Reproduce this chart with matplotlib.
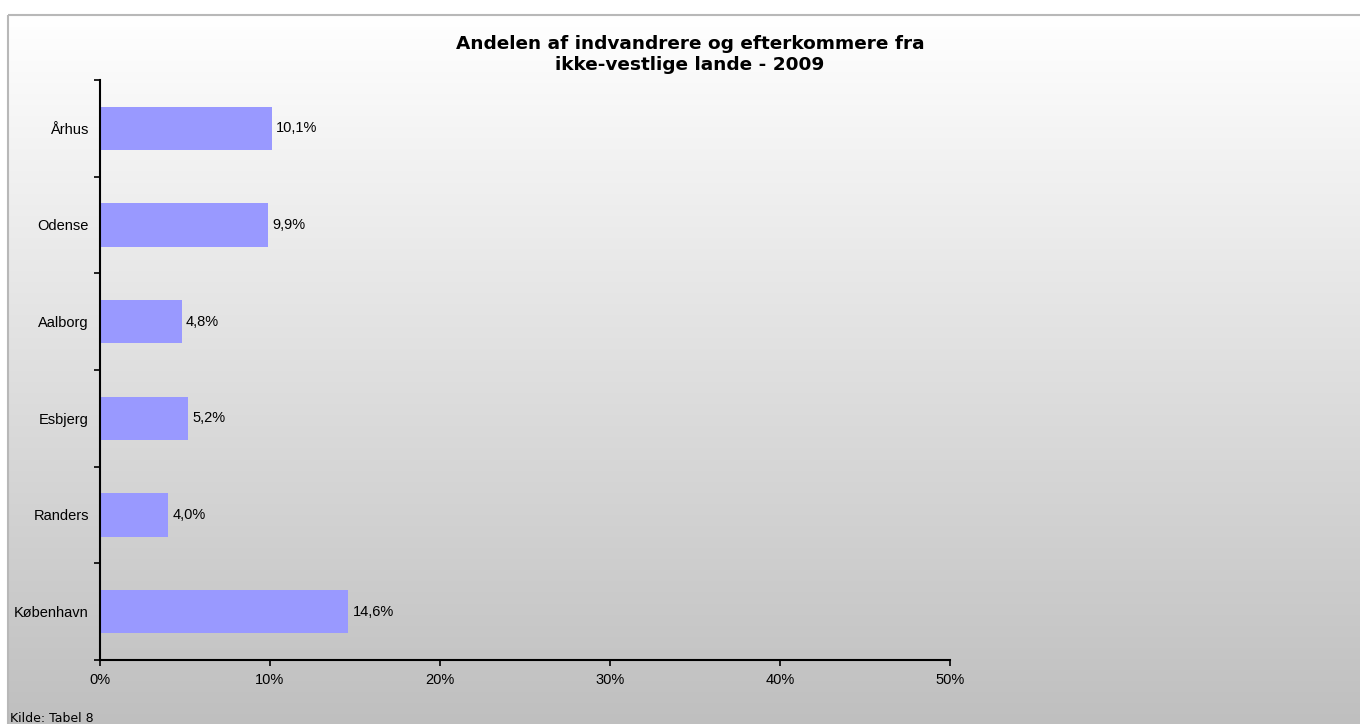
import numpy as np
import matplotlib
matplotlib.use("Agg")
import matplotlib.pyplot as plt
from matplotlib.patches import Rectangle
from matplotlib.ticker import FuncFormatter, FixedLocator

categories = ["Århus", "Odense", "Aalborg", "Esbjerg", "Randers", "København"]
values = [10.1, 9.9, 4.8, 5.2, 4.0, 14.6]
value_labels = ["10,1%", "9,9%", "4,8%", "5,2%", "4,0%", "14,6%"]
x_ticks = [0, 10, 20, 30, 40, 50]
title = "Andelen af indvandrere og efterkommere fra\nikke-vestlige lande - 2009"
source = "Kilde: Tabel 8"

W, H = 1360, 724
fig = plt.figure(figsize=(W / 100, H / 100), dpi=100)
fig.patch.set_facecolor("white")

# background with gradient and frame
bg = fig.add_axes([0, 0, 1, 1], zorder=-10)
bg.set_xlim(0, W)
bg.set_ylim(H, 0)
bg.axis("off")
grad = np.linspace(1.0, 0.75, 256).reshape(-1, 1)
grad_rgb = np.dstack([grad, grad, grad])
bg.imshow(grad_rgb, extent=[8, W + 5, H, 15], aspect="auto", interpolation="bilinear", zorder=0)
bg.add_patch(Rectangle((8, 15), W + 10, H, fill=False, edgecolor="#b8b8b8", lw=1.5, zorder=1))

FS = 10.5
ax = fig.add_axes([100 / W, 1 - 660 / H, 850 / W, 580 / H])
ax.set_facecolor("none")
y = np.arange(len(categories))
ax.barh(y, values, height=0.45, color="#9999ff", zorder=2)
ax.set_xlim(0, 50)
ax.set_ylim(len(categories) - 0.5, -0.5)

ax.set_yticks(y)
ax.set_yticklabels(categories, fontsize=FS, family="Liberation Sans")
ax.tick_params(axis="y", length=0, pad=8)
ax.yaxis.set_minor_locator(FixedLocator(np.arange(-0.5, len(categories), 1)))
ax.tick_params(axis="y", which="minor", length=4, width=1.2, direction="out")

ax.set_xticks(x_ticks)
ax.xaxis.set_major_formatter(FuncFormatter(lambda v, p: f"{int(v)}%"))
ax.tick_params(axis="x", length=4, width=1.2, direction="out", pad=5, labelsize=FS)
for lab in ax.get_xticklabels():
    lab.set_family("Liberation Sans")

for s in ["top", "right"]:
    ax.spines[s].set_visible(False)
for s in ["left", "bottom"]:
    ax.spines[s].set_linewidth(1.5)

for yi, v, lab in zip(y, values, value_labels):
    ax.text(v + 0.25, yi, lab, va="center", ha="left", fontsize=FS, family="Liberation Sans")

fig.text(690 / W, 1 - 35 / H, title, ha="center", va="top", fontsize=13.3,
         fontweight="bold", family="DejaVu Sans", linespacing=1.25)
fig.text(10 / W, 1 - 712 / H, source, ha="left", va="top", fontsize=9, family="DejaVu Sans")

fig.savefig("out.png", dpi=100)
